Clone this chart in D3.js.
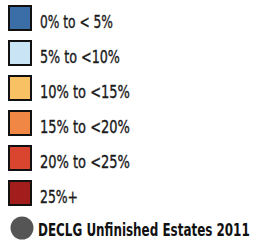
<!DOCTYPE html>
<html><head><meta charset="utf-8">
<script src="https://cdn.jsdelivr.net/npm/d3@7"></script>
<style>html,body{margin:0;padding:0;background:#fff;}</style>
</head><body>
<script>
const categories = ["0% to < 5%", "5% to <10%", "10% to <15%", "15% to <20%", "20% to <25%", "25%+"];
const labelWidths = [73, 80, 90, 90, 90, 38];
const colors = ["#3b6ea6", "#c8e4f5", "#f8c163", "#f08745", "#d9452e", "#a41d1d"];
const pointLabel = "DECLG Unfinished Estates 2011";
const pointLabelWidth = 212;
const pointColor = "#555555";

const W = 257, H = 244;
const font = "'DejaVu Sans Condensed', 'Liberation Sans Narrow', sans-serif";
const svg = d3.select("body").append("svg").attr("width", W).attr("height", H);
const y = d3.scaleLinear().domain([0, categories.length]).range([18, 228]);

function fitX(sel, x, widthFor) {
  sel.each(function(d, i) {
    const t = d3.select(this);
    const w = this.getComputedTextLength();
    const k = widthFor(d, i) / w;
    t.attr("x", 0).attr("transform", `translate(${x},0) scale(${k},1)`);
  });
}

const rows = svg.selectAll("g.row").data(categories).join("g")
  .attr("class", "row")
  .attr("transform", (d, i) => `translate(0,${y(i)})`);
rows.append("rect").attr("x", 9).attr("y", -12).attr("width", 22).attr("height", 24)
  .attr("fill", (d, i) => colors[i]).attr("stroke", "#111").attr("stroke-width", 2);
rows.append("text").attr("y", 9.5)
  .attr("font-family", font).attr("font-size", 17.5).attr("fill", "#1a1a1a")
  .attr("stroke", "#1a1a1a").attr("stroke-width", 0.35)
  .text(d => d)
  .call(fitX, 40, (d, i) => labelWidths[i]);

const g = svg.append("g").attr("transform", `translate(0,${y(categories.length)})`);
g.append("circle").attr("cx", 22).attr("cy", 0).attr("r", 11.5).attr("fill", pointColor);
g.append("text").attr("y", 7.5)
  .attr("font-family", font).attr("font-weight", "bold").attr("font-size", 17.5).attr("fill", "#111")
  .text(pointLabel)
  .call(fitX, 38, () => pointLabelWidth);
</script>
</body></html>
